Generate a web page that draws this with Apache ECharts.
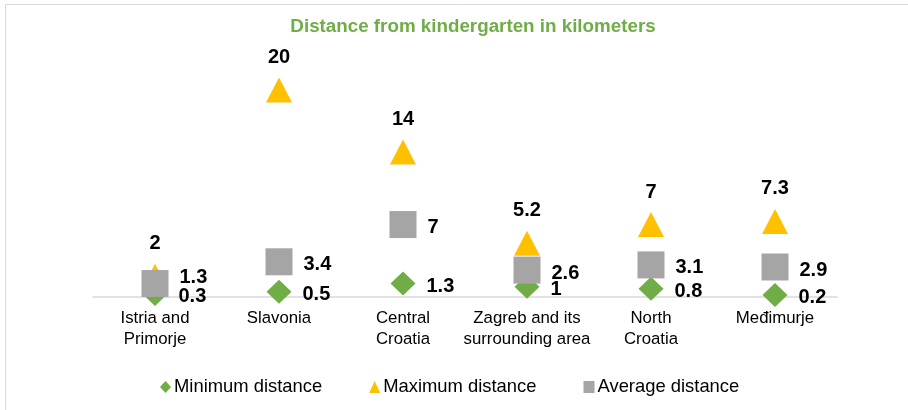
<!DOCTYPE html>
<html>
<head>
<meta charset="utf-8">
<script src="https://cdn.jsdelivr.net/npm/echarts@6/dist/echarts.min.js"></script>
<style>
html,body{margin:0;padding:0;background:#fff;}
#chart{width:908px;height:410px;}
</style>
</head>
<body>
<div id="chart"></div>
<script>
const categories = ["Istria and\nPrimorje", "Slavonia", "Central\nCroatia", "Zagreb and its\nsurrounding area", "North\nCroatia", "Međimurje"];
const minDistance = [0.3, 0.5, 1.3, 1, 0.8, 0.2];
const maxDistance = [2, 20, 14, 5.2, 7, 7.3];
const avgDistance = [1.3, 3.4, 7, 2.6, 3.1, 2.9];
const seriesNames = ["Minimum distance", "Maximum distance", "Average distance"];

const chart = echarts.init(document.getElementById('chart'));
const labelStyle = {show: true, color: '#000', fontFamily: 'Arial, Liberation Sans', fontWeight: 'bold', fontSize: 20};

const avgData = avgDistance.map((v, i) => i === 0 ? {value: v, label: {offset: [0, -6]}} : v);

chart.setOption({
  animation: false,
  title: {
    text: 'Distance from kindergarten in kilometers',
    left: 468, top: 12, textAlign: 'center',
    textStyle: {color: '#70AD47', fontFamily: 'Arial, Liberation Sans', fontWeight: 'bold', fontSize: 18.8}
  },
  graphic: [{type: 'rect', shape: {x: 5.5, y: 4.5, width: 920, height: 420}, style: {fill: 'none', stroke: '#d9d9d9', lineWidth: 1}, silent: true, z: -10}],
  legend: {
    bottom: 9, left: 155,
    itemWidth: 11, itemHeight: 12, itemGap: 47,
    textStyle: {color: '#000', fontFamily: 'Arial, Liberation Sans', fontSize: 18.4, padding: [0, 0, 0, -2]},
    data: [
      {name: seriesNames[0], icon: 'diamond', itemStyle: {color: '#70AD47'}},
      {name: seriesNames[1], icon: 'triangle', itemStyle: {color: '#FFC000'}},
      {name: seriesNames[2], icon: 'rect', itemStyle: {color: '#A5A5A5'}}
    ]
  },
  grid: {left: 93, right: 71, top: 90, bottom: 113},
  xAxis: {
    type: 'category', data: categories, boundaryGap: true,
    axisLine: {lineStyle: {color: '#d9d9d9', width: 1.5}},
    axisTick: {show: false},
    axisLabel: {color: '#000', fontFamily: 'Arial, Liberation Sans', fontSize: 16.8, lineHeight: 21, margin: 11, interval: 0}
  },
  yAxis: {type: 'value', min: 0, max: 20, show: false, splitLine: {show: false}},
  series: [
    {name: seriesNames[0], type: 'scatter', data: minDistance, symbol: 'diamond', symbolSize: [25, 24], clip: false,
     itemStyle: {color: '#70AD47', opacity: 1},
     label: Object.assign({position: 'right', distance: 11, offset: [0, 3]}, labelStyle)},
    {name: seriesNames[1], type: 'scatter', data: maxDistance, symbol: 'triangle', symbolSize: [26, 25], clip: false,
     itemStyle: {color: '#FFC000', opacity: 1},
     label: Object.assign({position: 'top', distance: 10}, labelStyle)},
    {name: seriesNames[2], type: 'scatter', data: avgData, symbol: 'rect', symbolSize: 27, clip: false,
     itemStyle: {color: '#A5A5A5', opacity: 1},
     label: Object.assign({position: 'right', distance: 11, offset: [0, 3]}, labelStyle)}
  ]
});
</script>
</body>
</html>
